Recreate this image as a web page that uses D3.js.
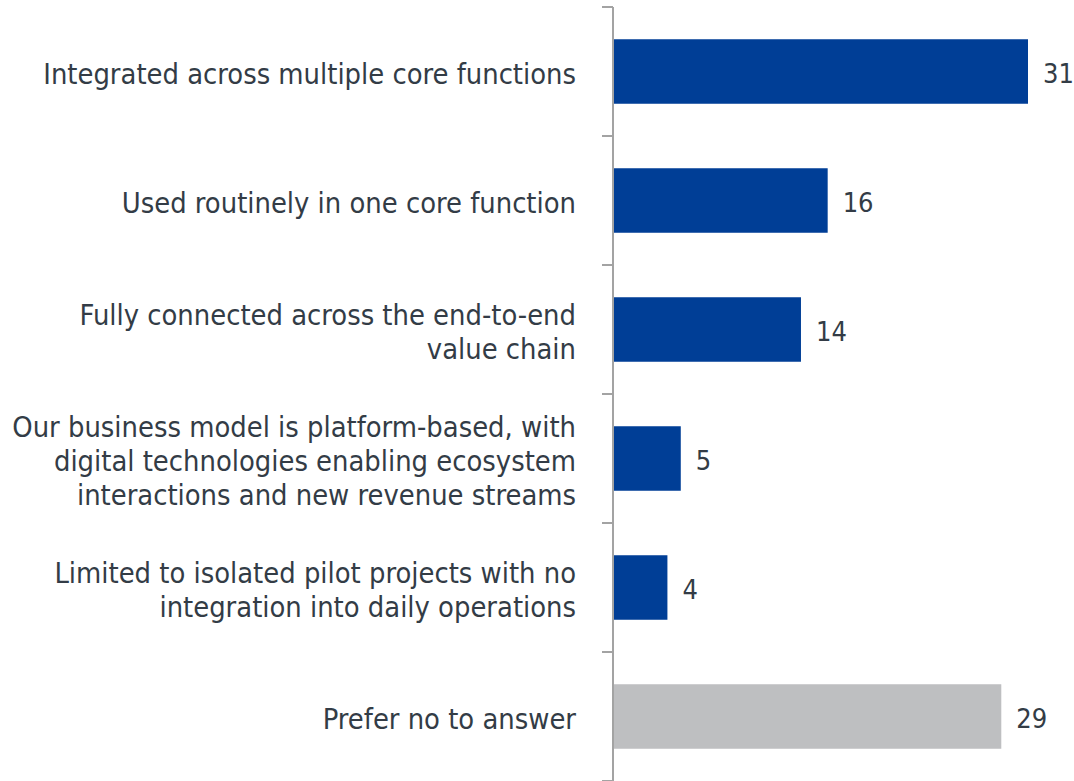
<!DOCTYPE html>
<html><head><meta charset="utf-8">
<script src="https://cdn.jsdelivr.net/npm/d3@7"></script>
<style>body{margin:0;background:#fff;}svg{display:block;}</style>
</head><body>
<svg id="chart" width="1074" height="781"></svg>
<script>
const categories = [
  ["Integrated across multiple core functions"],
  ["Used routinely in one core function"],
  ["Fully connected across the end-to-end", "value chain"],
  ["Our business model is platform-based, with", "digital technologies enabling ecosystem", "interactions and new revenue streams"],
  ["Limited to isolated pilot projects with no", "integration into daily operations"],
  ["Prefer no to answer"]
];
const values = [31, 16, 14, 5, 4, 29];
const barColors = ["#003e96", "#003e96", "#003e96", "#003e96", "#003e96", "#bebfc1"];

const svg = d3.select("#chart");
const ids = d3.range(categories.length);
const y = d3.scaleBand().domain(ids).range([7, 781]).paddingInner(0.5).paddingOuter(0.25);
const x = d3.scaleLinear().domain([0, 31]).range([614, 1028]);
const step = y.step();
const font = "'DejaVu Sans Condensed', 'DejaVu Sans', sans-serif";
const fs = 28.8;
const textColor = "#333c46";

// bars
svg.selectAll("rect.bar").data(ids).join("rect")
  .attr("x", x(0)).attr("y", i => y(i))
  .attr("width", i => x(values[i]) - x(0)).attr("height", y.bandwidth())
  .attr("fill", i => barColors[i]);

// axis line and ticks at boundaries
svg.append("line").attr("x1", 613).attr("x2", 613).attr("y1", 7).attr("y2", 781)
  .attr("stroke", "#a3a3a3").attr("stroke-width", 2);
const bounds = d3.range(categories.length + 1).map(k => y.range()[0] + k * step);
svg.selectAll("line.tick").data(bounds).join("line")
  .attr("x1", 602).attr("x2", 613).attr("y1", d => d).attr("y2", d => d)
  .attr("stroke", "#a3a3a3").attr("stroke-width", 2);

// category labels
const lh = 34;
ids.forEach(i => {
  const lines = categories[i];
  const cy = y(i) + y.bandwidth() / 2;
  const t = svg.append("text").attr("text-anchor", "end")
    .attr("font-family", font).attr("font-size", fs).attr("fill", textColor);
  lines.forEach((l, k) => {
    t.append("tspan").attr("x", 576)
      .attr("y", cy + (k - (lines.length - 1) / 2) * lh)
      .attr("dy", "0.42em").text(l);
  });
});

// value labels
svg.selectAll("text.val").data(ids).join("text")
  .attr("x", i => x(values[i]) + 15).attr("y", i => y(i) + y.bandwidth() / 2)
  .attr("dy", "0.42em").attr("font-family", font).attr("font-size", 27)
  .attr("fill", textColor).text(i => values[i]);
</script>
</body></html>
